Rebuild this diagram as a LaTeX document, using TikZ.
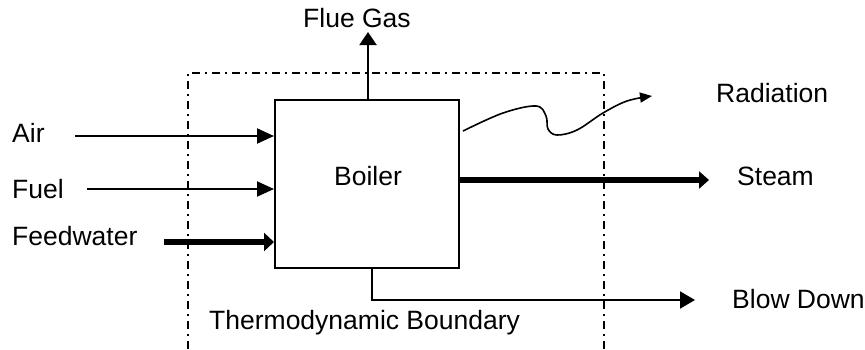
\documentclass[tikz,border=0pt]{standalone}
\usepackage{fontspec}
\setmainfont{Liberation Sans}
\usetikzlibrary{arrows.meta}
\begin{document}
\begin{tikzpicture}[x=1pt,y=-1pt,
  lbl/.style={anchor=base west,inner sep=0pt,font=\fontsize{26.5}{31}\selectfont},
  thin/.style={line width=2pt,-{Triangle[length=17pt,width=15pt]}},
  bound/.style={line width=2pt,dash pattern=on 8pt off 5pt on 2pt off 5pt}]
\useasboundingbox (0,0) rectangle (865,349);
% boundary
\draw[bound] (188,349) -- (188,73) -- (604,73) -- (604,349);
% boiler
\node[draw,line width=2pt,minimum width=184pt,minimum height=168pt,inner sep=0pt] (boiler) at (367,184) {};
\node[lbl] (boilertxt) at (334,185) {Boiler};
% labels
\node[lbl] (air) at (12,142) {Air};
\node[lbl] (fuel) at (12,198) {Fuel};
\node[lbl] (feed) at (12,245) {Feedwater};
\node[lbl] (flue) at (303,27) {Flue Gas};
\node[lbl] (rad) at (716,102) {Radiation};
\node[lbl] (steam) at (737,185) {Steam};
\node[lbl] (blow) at (732,308) {Blow Down};
\node[lbl] (thermo) at (209,329) {Thermodynamic Boundary};
% free ends
\coordinate (airs) at (75,136);
\coordinate (fuels) at (87,189);
\coordinate (feeds) at (164,242);
\coordinate (fluee) at (368,32);
\coordinate (steame) at (709,180);
\coordinate (blowc) at (372,300);
\coordinate (blowe) at (695,300);
% inputs
\draw[thin] (airs) -- (airs -| boiler.west);
\draw[thin] (fuels) -- (fuels -| boiler.west);
\draw[line width=6.5pt,-{Triangle[length=10pt,width=18pt]}] (feeds) -- (feeds -| boiler.west);
% outputs
\draw[line width=2pt,-{Triangle[length=13pt,width=17pt]}] (fluee |- boiler.north) -- (fluee);
\draw[line width=6.5pt,-{Triangle[length=10pt,width=17pt]}] (steame -| boiler.east) -- (steame);
\draw[line width=2pt,-{Triangle[length=15pt,width=17pt]}] (blowc |- boiler.south) -- (blowc) -- (blowe);
% radiation
\draw[line width=1.6pt,-{Triangle[length=12pt,width=10pt]}] plot[smooth,tension=0.6] coordinates {(463,131) (503,113) (536,106) (546,116) (548,129) (557,135) (577,130) (603,113) (627,101) (652,96)};
\end{tikzpicture}
\end{document}
